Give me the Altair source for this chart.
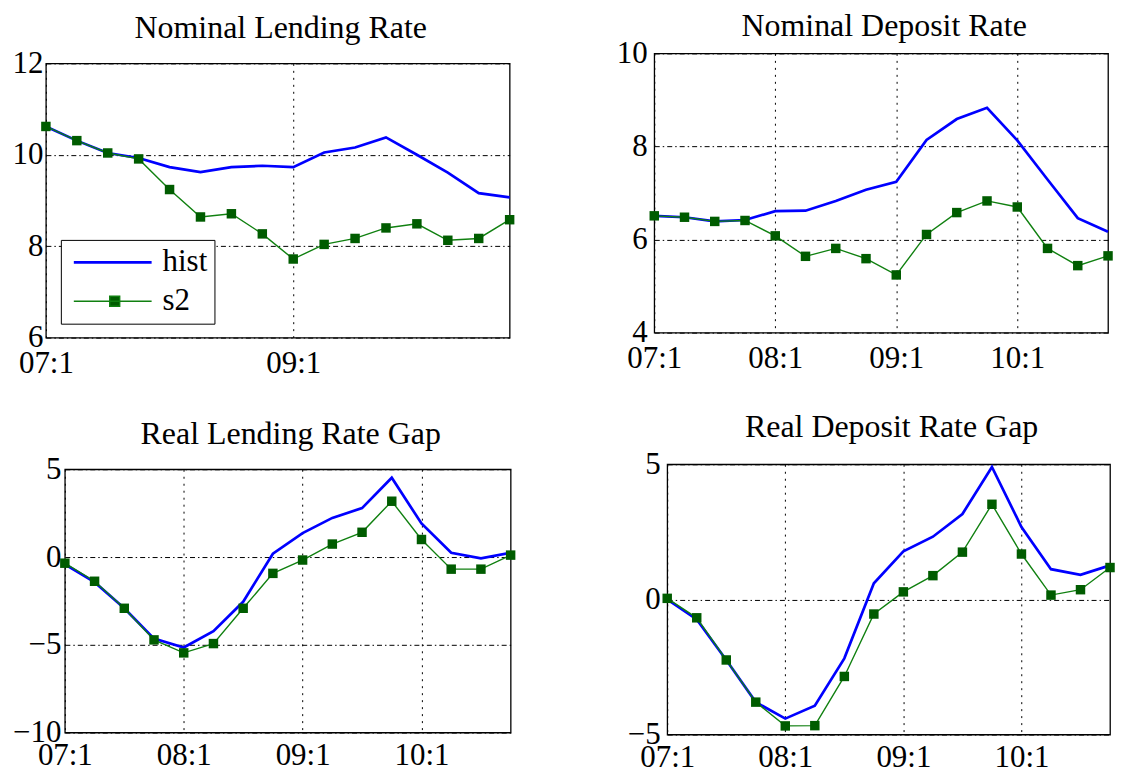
import altair as alt
import pandas as pd

quarters = ["07:1", "07:2", "07:3", "07:4", "08:1", "08:2", "08:3", "08:4",
            "09:1", "09:2", "09:3", "09:4", "10:1", "10:2", "10:3", "10:4"]
series_names = ["hist", "s2"]

nl_hist = [10.62, 10.31, 10.04, 9.93, 9.73, 9.62, 9.73, 9.76, 9.73, 10.05, 10.16, 10.38, 10.0, 9.61, 9.16, 9.07]
nl_s2 = [10.62, 10.31, 10.04, 9.91, 9.24, 8.64, 8.71, 8.27, 7.72, 8.04, 8.17, 8.40, 8.49, 8.13, 8.17, 8.58]
nd_hist = [6.51, 6.48, 6.39, 6.42, 6.61, 6.62, 6.83, 7.07, 7.24, 8.14, 8.59, 8.83, 8.13, 7.29, 6.46, 6.17]
nd_s2 = [6.51, 6.48, 6.39, 6.41, 6.08, 5.64, 5.81, 5.59, 5.24, 6.11, 6.58, 6.83, 6.70, 5.81, 5.44, 5.65]
rl_hist = [-0.41, -1.43, -2.92, -4.65, -5.15, -4.22, -2.55, 0.19, 1.36, 2.23, 2.79, 4.52, 1.91, 0.24, -0.07, 0.24]
rl_s2 = [-0.35, -1.38, -2.92, -4.72, -5.46, -4.93, -2.92, -0.93, -0.17, 0.74, 1.41, 3.18, 1.0, -0.69, -0.69, 0.11]
rd_hist = [0.0, -0.74, -2.24, -3.8, -4.41, -3.93, -2.18, 0.6, 1.78, 2.32, 3.16, 4.9, 2.68, 1.12, 0.91, 1.26]
rd_s2 = [0.04, -0.68, -2.24, -3.8, -4.68, -4.67, -2.85, -0.54, 0.28, 0.88, 1.75, 3.52, 1.68, 0.16, 0.36, 1.18]

x_ticks_sparse = ["07:1", "09:1"]
x_ticks_full = ["07:1", "08:1", "09:1", "10:1"]

BLUE = "#0000ff"
GREEN = "#108010"
DKGREEN = "#005c00"
FONT = "Liberation Serif"


def spacer(w, h):
    # empty, invisible view used only to offset panels in the layout
    return alt.Chart(pd.DataFrame({"s": []})).mark_point(opacity=0).properties(
        width=w, height=h, view=alt.ViewBackground(stroke="transparent"))


def panel(title, hist, s2, ydomain, yvalues, xvalues, width, height, toffset,
          legend=False, ypad=7, xpad=11):
    df = pd.DataFrame({
        "q": quarters * 2,
        "v": hist + s2,
        "series": ["hist"] * len(hist) + ["s2"] * len(s2),
    })
    x = alt.X("q:O", sort=quarters, scale=alt.Scale(type="point", padding=0),
              axis=alt.Axis(values=xvalues, labelAngle=0, title=None, ticks=False,
                            domain=False, labelPadding=xpad, grid=True,
                            gridDash=[2, 5], labelFlush=False, labelOverlap=False))
    y = alt.Y("v:Q", scale=alt.Scale(domain=ydomain, nice=False, zero=False),
              axis=alt.Axis(values=yvalues, title=None, ticks=False, domain=False,
                            labelPadding=ypad, grid=True, gridDash=[5, 3, 1.5, 3],
                            labelFlush=False, labelOverlap=False))
    if legend:
        leg = alt.Legend(
            orient="none", legendX=52, legendY=233, title=None, direction="vertical",
            fillColor="white", strokeColor="black", padding=7, rowPadding=7,
            labelFont=FONT, labelFontSize=31, labelColor="black", labelOffset=64,
            labelExpr="datum.label + '\u00a0\u00a0\u00a0'",
            symbolSize=400, symbolOpacity=1,
            symbolType={"expr": "datum.value === 'hist' ? 'M-0.95,0H6.85' : "
                                "'M-0.95,0H6.85M2.65,-0.5H3.65V0.5H2.65Z'"},
            symbolStrokeWidth={"expr": "datum.value === 'hist' ? 2.7 : 1.4"},
            symbolFillColor={"expr": "datum.value === 'hist' ? '%s' : '%s'" % (BLUE, DKGREEN)},
        )
    else:
        leg = None
    lines = alt.Chart(df).mark_line(clip=False).encode(
        x=x, y=y,
        color=alt.Color("series:N", scale=alt.Scale(domain=series_names, range=[BLUE, GREEN]),
                        legend=leg),
        strokeWidth=alt.StrokeWidth("series:N",
                                    scale=alt.Scale(domain=series_names, range=[2.7, 1.4]),
                                    legend=None),
    )
    pts = alt.Chart(df).transform_filter("datum.series === 's2'").mark_point(
        shape="square", filled=True, size=90, color=DKGREEN, opacity=1, clip=False
    ).encode(x=x, y=y)
    return alt.layer(lines, pts).properties(
        width=width, height=height,
        title=alt.TitleParams(title, offset=toffset, frame="group", dx=3),
    )


p1 = panel("Nominal Lending Rate", nl_hist, nl_s2, [6, 12], [6, 8, 10, 12],
           x_ticks_sparse, 465, 275, 2, legend=True, ypad=3)
p2 = panel("Nominal Deposit Rate", nd_hist, nd_s2, [4, 10], [4, 6, 8, 10],
           x_ticks_full, 455, 280, -6)
p3 = panel("Real Lending Rate Gap", rl_hist, rl_s2, [-10, 5], [-10, -5, 0, 5],
           x_ticks_full, 447, 264, 2, ypad=4, xpad=8)
p4 = panel("Real Deposit Rate Gap", rd_hist, rd_s2, [-5, 5], [-5, 0, 5],
           x_ticks_full, 444, 271, 4, xpad=8)

cell1 = alt.vconcat(spacer(1, 3), p1, spacing=0)
cell2 = alt.vconcat(spacer(1, 1), p2, spacing=0)
cell3 = alt.vconcat(spacer(1, 8), p3, spacing=0)
cell4 = alt.vconcat(spacer(1, 1), p4, spacing=0)

row1 = alt.hconcat(spacer(1, 1), alt.hconcat(cell1, cell2, spacing=99), spacing=0)
row2 = alt.hconcat(spacer(1, 1), alt.hconcat(cell3, cell4, spacing=109), spacing=0)

chart = alt.vconcat(row1, row2, spacing=28).properties(
    padding={"top": -2.5, "bottom": -6, "left": 0, "right": 0}
).configure_view(
    stroke="black", strokeWidth=1.3
).configure_axis(
    labelFont=FONT, labelFontSize=31, labelColor="black",
    gridColor="black", gridOpacity=1, gridWidth=1
).configure_title(
    font=FONT, fontSize=32, fontWeight="normal", color="black", anchor="middle"
)

chart.save("out.html", embed_options={"renderer": "svg", "actions": False})
